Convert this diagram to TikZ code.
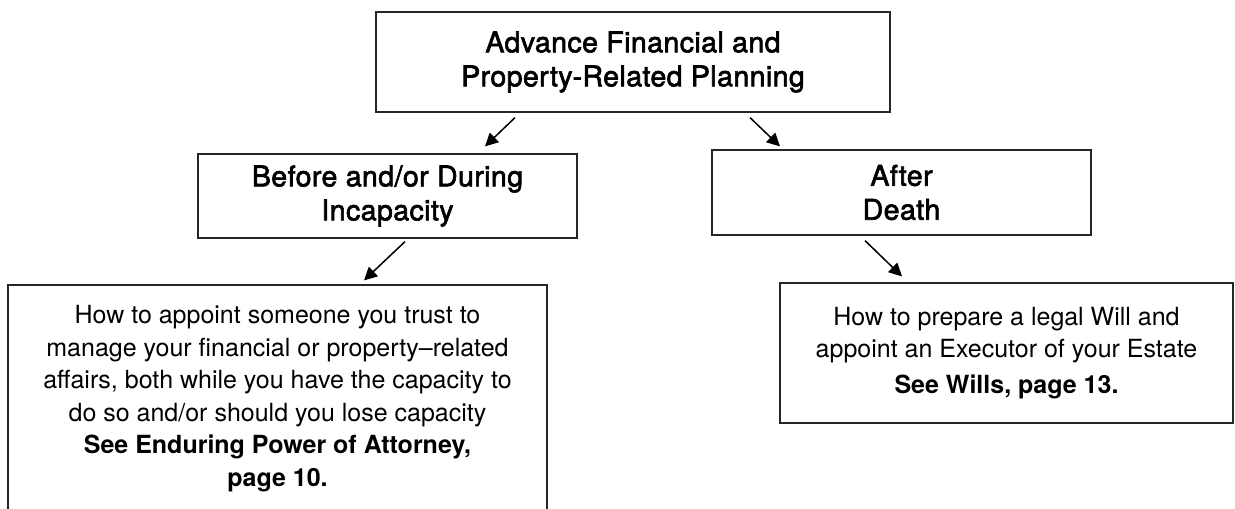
\documentclass[tikz,border=0pt]{standalone}
\usepackage{fontspec}
\setmainfont{TeX Gyre Heros}
\newfontfamily\headfont{TeX Gyre Heros}[FakeBold=2.2,LetterSpace=1.5]
\usetikzlibrary{arrows.meta}
\begin{document}
\begin{tikzpicture}[x=1pt,y=-1pt,
  box/.style={draw=black!85, line width=1.2pt, inner sep=0pt, align=center},
  head/.style={font=\headfont\fontsize{28.5}{34}\selectfont},
  body/.style={font=\fontsize{25}{32.5}\selectfont},
  arr/.style={line width=1.5pt, -{Triangle[length=13pt,width=13pt]}}]
\useasboundingbox (0,0) rectangle (1235,509);
\node[box,head,minimum width=514pt,minimum height=100pt] (top) at (633,62)
  {Advance Financial and\\Property-Related Planning};
\node[box,head,minimum width=379pt,minimum height=84pt] (left) at (387.5,196)
  {Before and/or During\\Incapacity};
\node[box,head,minimum width=379pt,minimum height=85pt] (right) at (901.5,192.5)
  {After\\Death};
\node[box,body,minimum width=539pt,minimum height=227pt] (epa) at (277.5,398.5)
  {How to appoint someone you trust to\\
   manage your financial or property–related\\
   affairs, both while you have the capacity to\\
   do so and/or should you lose capacity\\
   \textbf{See Enduring Power of Attorney,}\\
   \textbf{page 10.}};
\node[box,body,minimum width=453pt,minimum height=140pt] (will) at (1006.5,353)
  {How to prepare a legal Will and\\
   appoint an Executor of your Estate\\[3pt]
   \textbf{See Wills, page 13.}};
\draw[arr] ([xshift=-118pt,yshift=-5pt]top.south) -- ([xshift=97.5pt,yshift=7pt]left.north);
\draw[arr] ([xshift=117pt,yshift=-5pt]top.south) -- ([xshift=-121.5pt,yshift=3pt]right.north);
\draw[arr] ([xshift=17.5pt,yshift=-3pt]left.south) -- ([xshift=86.5pt,yshift=4pt]epa.north);
\draw[arr] ([xshift=-36.5pt,yshift=-5pt]right.south) -- ([xshift=-104.5pt,yshift=6pt]will.north);
\end{tikzpicture}
\end{document}
